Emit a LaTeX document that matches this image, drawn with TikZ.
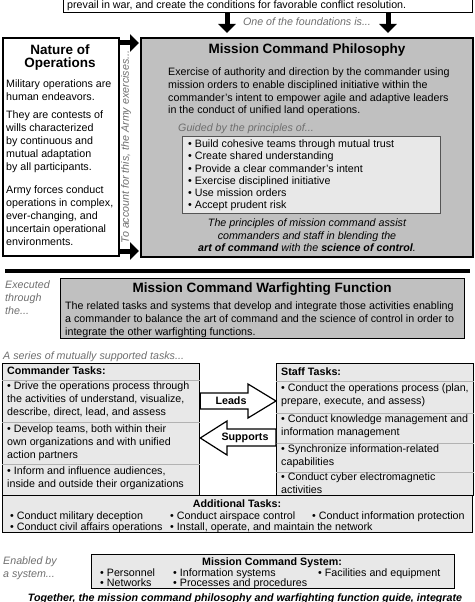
\documentclass[tikz,border=0pt]{standalone}
\usepackage{fontspec}
\setmainfont{Liberation Sans}
\usetikzlibrary{arrows.meta, positioning, calc}
\definecolor{midGray}{RGB}{192,192,192}
\definecolor{paleGray}{RGB}{232,232,232}
\definecolor{noteGray}{RGB}{110,110,110}
\definecolor{edgeGray}{RGB}{85,85,85}

\begin{document}
\begin{tikzpicture}[x=1pt, y=-1pt,
    body/.style={inner sep=0pt, align=left, font=\fontsize{10.7}{12.6}\selectfont},
    note/.style={body, font=\fontsize{10.7}{12.6}\selectfont\itshape, text=noteGray},
    head/.style={inner sep=0pt, align=center, font=\fontsize{13.5}{13}\selectfont\bfseries},
    subhead/.style={body, font=\fontsize{10.7}{12.6}\selectfont\bfseries},
    panel/.style={draw=black, line width=1.6pt, anchor=north west, inner sep=0pt},
    listbox/.style={draw=black, line width=1.3pt, fill=paleGray, anchor=north west, inner sep=0pt},
    fatarrow/.style={line width=5pt, -{Triangle[width=17pt,length=9pt]}},
    blockarrow/.style={draw=black, line width=1.2pt, fill=white, line join=miter},
    divider/.style={draw=gray!60, line width=0.6pt}
  ]
  \useasboundingbox (0,0) rectangle (474,602);

  % Cut-off box at the top
  \node[panel, fill=white, line width=1.3pt, anchor=south west, minimum width=409pt, minimum height=40pt] (goal) at (63,13) {};
  \node[body, anchor=west] at (67,5.5) {prevail in war, and create the conditions for favorable conflict resolution.};

  % Nature of operations
  \node[panel, fill=white, minimum width=116pt, minimum height=218pt] (nature) at (2,37) {};
  \node[head, anchor=north] at (60,45) {Nature of\\Operations};
  \node[body, anchor=north west, font=\fontsize{10.7}{12.8}\selectfont] at (6,80) {Military operations are\\human endeavors.};
  \node[body, anchor=north west, font=\fontsize{10.7}{12.8}\selectfont] at (6,111) {They are contests of\\wills characterized\\by continuous and\\mutual adaptation\\by all participants.};
  \node[body, anchor=north west, font=\fontsize{10.7}{12.8}\selectfont] at (6,186) {Army forces conduct\\operations in complex,\\ever-changing, and\\uncertain operational\\environments.};
  \node[note, rotate=90] at (126,147) {To account for this, the Army exercises...};

  % Mission command philosophy
  \node[panel, fill=midGray, minimum width=332pt, minimum height=219pt] (mcp) at (140,37) {};
  \node[head] at (307,50) {Mission Command Philosophy};
  \node[body, anchor=north west] at (168,68) {Exercise of authority and direction by the commander using\\mission orders to enable disciplined initiative within the\\commander’s intent to empower agile and adaptive leaders\\in the conduct of unified land operations.};
  \node[note, anchor=west] at (178,129) {Guided by the principles of...};
  \node[draw=edgeGray, line width=1.2pt, fill=paleGray, anchor=north west, inner sep=0pt, minimum width=258pt, minimum height=77pt] (principles) at (182,136) {};
  \node[body, anchor=north west, font=\fontsize{10.7}{12.3}\selectfont] at (188,139.5) {• Build cohesive teams through mutual trust\\• Create shared understanding\\• Provide a clear commander’s intent\\• Exercise disciplined initiative\\• Use mission orders\\• Accept prudent risk};
  \node[body, anchor=north, align=center, font=\fontsize{10.7}{12.2}\selectfont\itshape] at (307,219) {The principles of mission command assist\\commanders and staff in blending the\\\textbf{art of command} with the \textbf{science of control}.};

  % Arrows into the philosophy
  \foreach \x in {227,388}
    \draw[fatarrow, shorten >=4pt] (goal.south -| \x,0) -- (mcp.north -| \x,0);
  \node[note] at (307,22) {One of the foundations is...};
  \foreach \y in {43,251}
    \draw[fatarrow, shorten >=1pt] (nature.east |- 0,\y) -- (mcp.west |- 0,\y);

  \draw[line width=3.5pt] (5,271) -- (470,271);

  % Warfighting function
  \node[note, anchor=north west, font=\fontsize{10.7}{13}\selectfont\itshape] at (5,281) {Executed\\through\\the...};
  \node[panel, fill=midGray, line width=1.4pt, minimum width=404pt, minimum height=60pt] (mcwf) at (60,278) {};
  \node[head] at (262,289) {Mission Command Warfighting Function};
  \node[body, anchor=north west] at (65,302) {The related tasks and systems that develop and integrate those activities enabling\\a commander to balance the art of command and the science of control in order to\\integrate the other warfighting functions.};

  % Tasks
  \node[note, anchor=west] at (3,357) {A series of mutually supported tasks...};
  \node[listbox, minimum width=197pt, minimum height=132pt] (cdrtasks) at (2,363) {};
  \node[listbox, minimum width=197pt, minimum height=132pt] (stafftasks) at (276,363) {};
  \foreach \y in {380,422,464}
    \draw[divider] (cdrtasks.west |- 0,\y) -- (cdrtasks.east |- 0,\y);
  \foreach \y in {381,413,443,472}
    \draw[divider] (stafftasks.west |- 0,\y) -- (stafftasks.east |- 0,\y);

  \node[subhead, anchor=west] at (7,371) {Commander Tasks:};
  \node[body, anchor=north west] at (7,382) {• Drive the operations process through\\the activities of understand, visualize,\\describe, direct, lead, and assess};
  \node[body, anchor=north west] at (7,425) {• Develop teams, both within their\\own organizations and with unified\\action partners};
  \node[body, anchor=north west] at (7,467) {• Inform and influence audiences,\\inside and outside their organizations};

  \node[subhead, anchor=west] at (281,372) {Staff Tasks:};
  \node[body, anchor=north west] at (281,384) {• Conduct the operations process (plan,\\prepare, execute, and assess)};
  \node[body, anchor=north west] at (281,415) {• Conduct knowledge management and\\information management};
  \node[body, anchor=north west] at (281,445) {• Synchronize information-related\\capabilities};
  \node[body, anchor=north west] at (281,473) {• Conduct cyber electromagnetic\\activities};

  % Leads / supports
  \draw[blockarrow] (cdrtasks.east |- 0,393) -- (248,393) -- (248,384) -- (stafftasks.west |- 0,401)
    -- (248,418) -- (248,409) -- (cdrtasks.east |- 0,409) -- cycle;
  \node[subhead] (leads) at (231,401) {Leads};
  \draw[blockarrow] (stafftasks.west |- 0,429) -- (227,429) -- (227,421) -- (cdrtasks.east |- 0,438)
    -- (227,455) -- (227,446) -- (stafftasks.west |- 0,446) -- cycle;
  \node[subhead] (supports) at (245,438) {Supports};

  % Additional tasks
  \node[listbox, minimum width=470pt, minimum height=37pt] (addtasks) at (2,495) {};
  \node[subhead, anchor=base] at (237,507) {Additional Tasks:};
  \foreach \x/\y/\t in {10/519/{Conduct military deception}, 170/519/{Conduct airspace control},
      312/519/{Conduct information protection}, 10/530.5/{Conduct civil affairs operations},
      170/530.5/{Install, operate, and maintain the network}}
    \node[body, anchor=base west] at (\x,\y) {• \t};

  % Mission command system
  \node[note, anchor=north west] at (3,557) {Enabled by\\a system...};
  \node[listbox, line width=1.2pt, minimum width=363pt, minimum height=34pt] (mcsystem) at (91,554) {};
  \node[subhead, anchor=base] at (272,565) {Mission Command System:};
  \foreach \x/\y/\t in {100/576/Personnel, 173/576/{Information systems}, 318/576/{Facilities and equipment},
      100/586/Networks, 173/586/{Processes and procedures}}
    \node[body, anchor=base west] at (\x,\y) {• \t};

  \node[inner sep=0pt, font=\fontsize{10.7}{12}\selectfont\bfseries\itshape] (together) at (245,599) {Together, the mission command philosophy and warfighting function guide, integrate};
\end{tikzpicture}
\end{document}
